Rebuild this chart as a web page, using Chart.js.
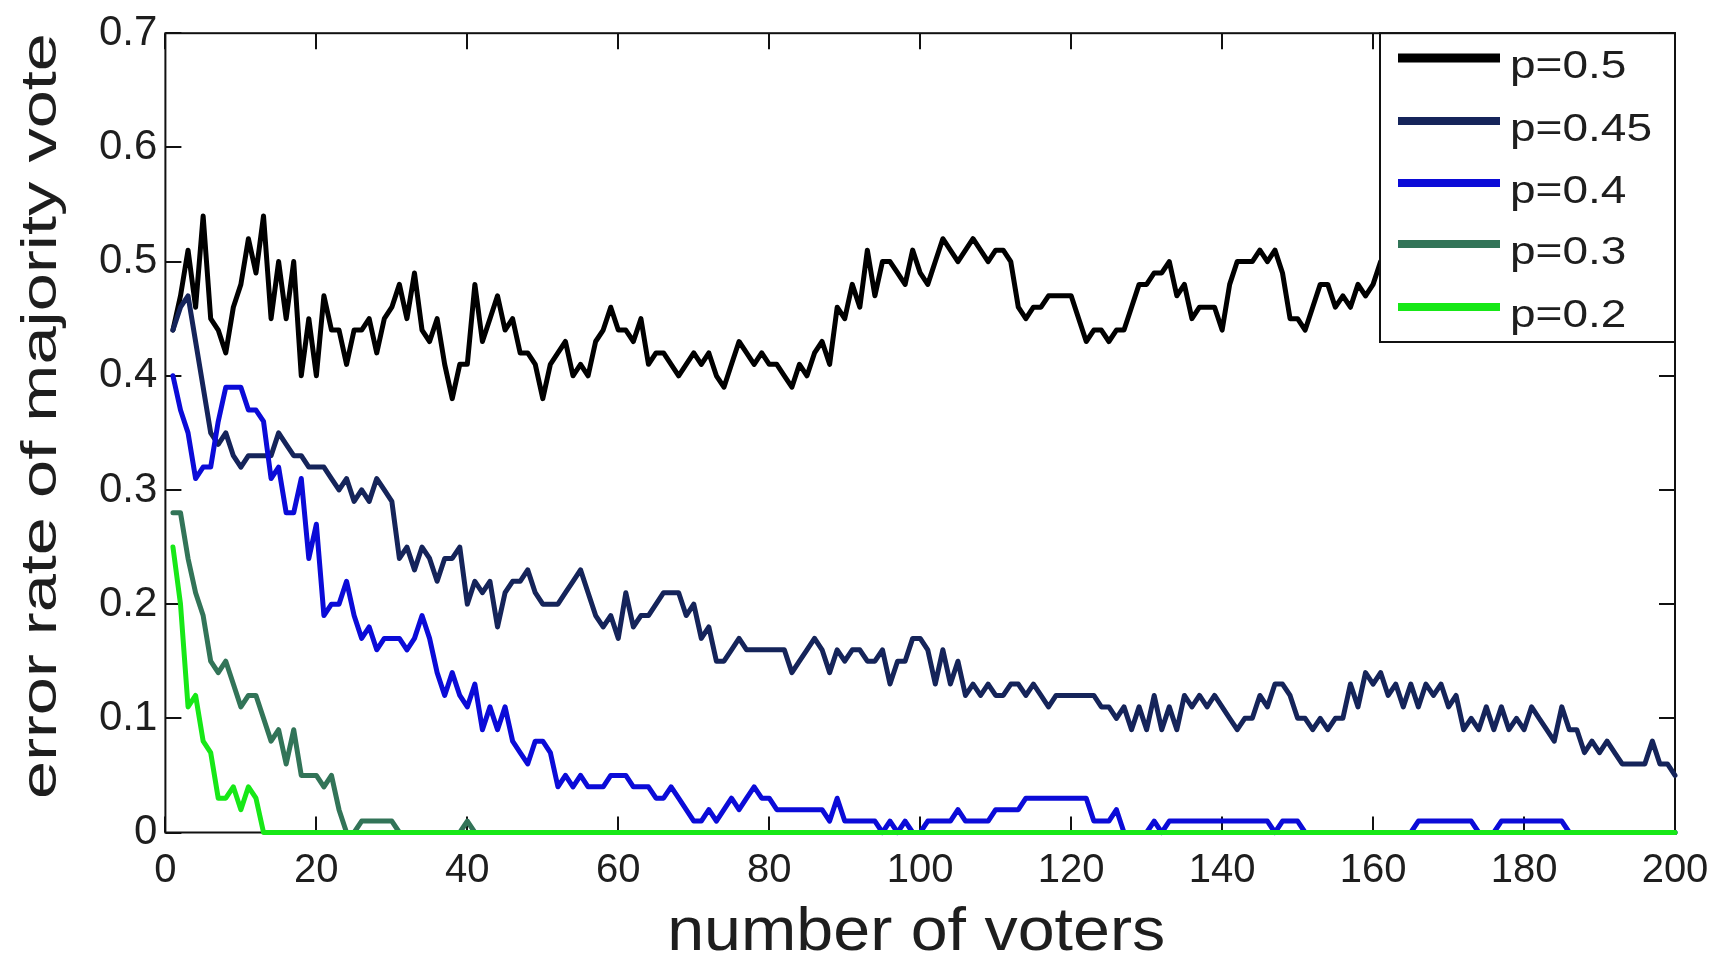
<!DOCTYPE html>
<html>
<head>
<meta charset="utf-8">
<script src="https://cdn.jsdelivr.net/npm/chart.js@4.4.1/dist/chart.umd.min.js"></script>
<style>
  html, body { margin: 0; padding: 0; background: #fff; overflow: hidden; }
  #wrap { width: 1729px; height: 954px; position: relative; }
  canvas { display: block; }
</style>
</head>
<body>
<div id="wrap"><canvas id="chart" width="1729" height="954"></canvas></div>
<script>
// number of voters on the x axis: 1 .. 200
const voters = Array.from({ length: 200 }, (_, i) => i + 1);

// error rate of the majority vote, one array per individual error probability p
const errP50 = [
  0.44,0.47,0.51,0.46,0.54,0.45,0.44,0.42,0.46,0.48,
  0.52,0.49,0.54,0.45,0.50,0.45,0.50,0.40,0.45,0.40,
  0.47,0.44,0.44,0.41,0.44,0.44,0.45,0.42,0.45,0.46,
  0.48,0.45,0.49,0.44,0.43,0.45,0.41,0.38,0.41,0.41,
  0.48,0.43,0.45,0.47,0.44,0.45,0.42,0.42,0.41,0.38,
  0.41,0.42,0.43,0.40,0.41,0.40,0.43,0.44,0.46,0.44,
  0.44,0.43,0.45,0.41,0.42,0.42,0.41,0.40,0.41,0.42,
  0.41,0.42,0.40,0.39,0.41,0.43,0.42,0.41,0.42,0.41,
  0.41,0.40,0.39,0.41,0.40,0.42,0.43,0.41,0.46,0.45,
  0.48,0.46,0.51,0.47,0.50,0.50,0.49,0.48,0.51,0.49,
  0.48,0.50,0.52,0.51,0.50,0.51,0.52,0.51,0.50,0.51,
  0.51,0.50,0.46,0.45,0.46,0.46,0.47,0.47,0.47,0.47,
  0.45,0.43,0.44,0.44,0.43,0.44,0.44,0.46,0.48,0.48,
  0.49,0.49,0.50,0.47,0.48,0.45,0.46,0.46,0.46,0.44,
  0.48,0.50,0.50,0.50,0.51,0.50,0.51,0.49,0.45,0.45,
  0.44,0.46,0.48,0.48,0.46,0.47,0.46,0.48,0.47,0.48,
  0.50,0.51
];
const errP45 = [
  0.44,0.46,0.47,0.43,0.39,0.35,0.34,0.35,0.33,0.32,
  0.33,0.33,0.33,0.33,0.35,0.34,0.33,0.33,0.32,0.32,
  0.32,0.31,0.30,0.31,0.29,0.30,0.29,0.31,0.30,0.29,
  0.24,0.25,0.23,0.25,0.24,0.22,0.24,0.24,0.25,0.20,
  0.22,0.21,0.22,0.18,0.21,0.22,0.22,0.23,0.21,0.20,
  0.20,0.20,0.21,0.22,0.23,0.21,0.19,0.18,0.19,0.17,
  0.21,0.18,0.19,0.19,0.20,0.21,0.21,0.21,0.19,0.20,
  0.17,0.18,0.15,0.15,0.16,0.17,0.16,0.16,0.16,0.16,
  0.16,0.16,0.14,0.15,0.16,0.17,0.16,0.14,0.16,0.15,
  0.16,0.16,0.15,0.15,0.16,0.13,0.15,0.15,0.17,0.17,
  0.16,0.13,0.16,0.13,0.15,0.12,0.13,0.12,0.13,0.12,
  0.12,0.13,0.13,0.12,0.13,0.12,0.11,0.12,0.12,0.12,
  0.12,0.12,0.12,0.11,0.11,0.10,0.11,0.09,0.11,0.09,
  0.12,0.09,0.11,0.09,0.12,0.11,0.12,0.11,0.12,0.11,
  0.10,0.09,0.10,0.10,0.12,0.11,0.13,0.13,0.12,0.10,
  0.10,0.09,0.10,0.09,0.10,0.10,0.13,0.11,0.14,0.13,
  0.14,0.12,0.13,0.11,0.13,0.11,0.13,0.12,0.13,0.11,
  0.12,0.09,0.10,0.09,0.11,0.09,0.11,0.09,0.10,0.09,
  0.11,0.10,0.09,0.08,0.11,0.09,0.09,0.07,0.08,0.07,
  0.08,0.07,0.06,0.06,0.06,0.06,0.08,0.06,0.06,0.05
];
const errP40 = [
  0.40,0.37,0.35,0.31,0.32,0.32,0.36,0.39,0.39,0.39,
  0.37,0.37,0.36,0.31,0.32,0.28,0.28,0.31,0.24,0.27,
  0.19,0.20,0.20,0.22,0.19,0.17,0.18,0.16,0.17,0.17,
  0.17,0.16,0.17,0.19,0.17,0.14,0.12,0.14,0.12,0.11,
  0.13,0.09,0.11,0.09,0.11,0.08,0.07,0.06,0.08,0.08,
  0.07,0.04,0.05,0.04,0.05,0.04,0.04,0.04,0.05,0.05,
  0.05,0.04,0.04,0.04,0.03,0.03,0.04,0.03,0.02,0.01,
  0.01,0.02,0.01,0.02,0.03,0.02,0.03,0.04,0.03,0.03,
  0.02,0.02,0.02,0.02,0.02,0.02,0.02,0.01,0.03,0.01,
  0.01,0.01,0.01,0.01,0.00,0.01,0.00,0.01,0.00,0.00,
  0.01,0.01,0.01,0.01,0.02,0.01,0.01,0.01,0.01,0.02,
  0.02,0.02,0.02,0.03,0.03,0.03,0.03,0.03,0.03,0.03,
  0.03,0.03,0.01,0.01,0.01,0.02,0.00,0.00,0.00,0.00,
  0.01,0.00,0.01,0.01,0.01,0.01,0.01,0.01,0.01,0.01,
  0.01,0.01,0.01,0.01,0.01,0.01,0.00,0.01,0.01,0.01,
  0.00,0.00,0.00,0.00,0.00,0.00,0.00,0.00,0.00,0.00,
  0.00,0.00,0.00,0.00,0.00,0.01,0.01,0.01,0.01,0.01,
  0.01,0.01,0.01,0.00,0.00,0.00,0.01,0.01,0.01,0.01,
  0.01,0.01,0.01,0.01,0.01,0.00,0.00,0.00,0.00,0.00,
  0.00,0.00,0.00,0.00,0.00,0.00,0.00,0.00,0.00,0.00
];
const errP30 = [
  0.28,0.28,0.24,0.21,0.19,0.15,0.14,0.15,0.13,0.11,
  0.12,0.12,0.10,0.08,0.09,0.06,0.09,0.05,0.05,0.05,
  0.04,0.05,0.02,0.00,0.00,0.01,0.01,0.01,0.01,0.01,
  0.00,0.00,0.00,0.00,0.00,0.00,0.00,0.00,0.00,0.01,
  0.00,0.00,0.00,0.00,0.00,0.00,0.00,0.00,0.00,0.00,
  0.00,0.00,0.00,0.00,0.00,0.00,0.00,0.00,0.00,0.00,
  0.00,0.00,0.00,0.00,0.00,0.00,0.00,0.00,0.00,0.00,
  0.00,0.00,0.00,0.00,0.00,0.00,0.00,0.00,0.00,0.00,
  0.00,0.00,0.00,0.00,0.00,0.00,0.00,0.00,0.00,0.00,
  0.00,0.00,0.00,0.00,0.00,0.00,0.00,0.00,0.00,0.00,
  0.00,0.00,0.00,0.00,0.00,0.00,0.00,0.00,0.00,0.00,
  0.00,0.00,0.00,0.00,0.00,0.00,0.00,0.00,0.00,0.00,
  0.00,0.00,0.00,0.00,0.00,0.00,0.00,0.00,0.00,0.00,
  0.00,0.00,0.00,0.00,0.00,0.00,0.00,0.00,0.00,0.00,
  0.00,0.00,0.00,0.00,0.00,0.00,0.00,0.00,0.00,0.00,
  0.00,0.00,0.00,0.00,0.00,0.00,0.00,0.00,0.00,0.00,
  0.00,0.00,0.00,0.00,0.00,0.00,0.00,0.00,0.00,0.00,
  0.00,0.00,0.00,0.00,0.00,0.00,0.00,0.00,0.00,0.00,
  0.00,0.00,0.00,0.00,0.00,0.00,0.00,0.00,0.00,0.00,
  0.00,0.00,0.00,0.00,0.00,0.00,0.00,0.00,0.00,0.00
];
const errP20 = [
  0.25,0.20,0.11,0.12,0.08,0.07,0.03,0.03,0.04,0.02,
  0.04,0.03,0.00,0.00,0.00,0.00,0.00,0.00,0.00,0.00,
  0.00,0.00,0.00,0.00,0.00,0.00,0.00,0.00,0.00,0.00,
  0.00,0.00,0.00,0.00,0.00,0.00,0.00,0.00,0.00,0.00,
  0.00,0.00,0.00,0.00,0.00,0.00,0.00,0.00,0.00,0.00,
  0.00,0.00,0.00,0.00,0.00,0.00,0.00,0.00,0.00,0.00,
  0.00,0.00,0.00,0.00,0.00,0.00,0.00,0.00,0.00,0.00,
  0.00,0.00,0.00,0.00,0.00,0.00,0.00,0.00,0.00,0.00,
  0.00,0.00,0.00,0.00,0.00,0.00,0.00,0.00,0.00,0.00,
  0.00,0.00,0.00,0.00,0.00,0.00,0.00,0.00,0.00,0.00,
  0.00,0.00,0.00,0.00,0.00,0.00,0.00,0.00,0.00,0.00,
  0.00,0.00,0.00,0.00,0.00,0.00,0.00,0.00,0.00,0.00,
  0.00,0.00,0.00,0.00,0.00,0.00,0.00,0.00,0.00,0.00,
  0.00,0.00,0.00,0.00,0.00,0.00,0.00,0.00,0.00,0.00,
  0.00,0.00,0.00,0.00,0.00,0.00,0.00,0.00,0.00,0.00,
  0.00,0.00,0.00,0.00,0.00,0.00,0.00,0.00,0.00,0.00,
  0.00,0.00,0.00,0.00,0.00,0.00,0.00,0.00,0.00,0.00,
  0.00,0.00,0.00,0.00,0.00,0.00,0.00,0.00,0.00,0.00,
  0.00,0.00,0.00,0.00,0.00,0.00,0.00,0.00,0.00,0.00,
  0.00,0.00,0.00,0.00,0.00,0.00,0.00,0.00,0.00,0.00
];

const seriesLabels = ['p=0.5', 'p=0.45', 'p=0.4', 'p=0.3', 'p=0.2'];
const seriesValues = [errP50, errP45, errP40, errP30, errP20];
const seriesColors = ['#000000', '#15245a', '#0b0bd8', '#327458', '#17e817'];

const xTickValues = [0, 20, 40, 60, 80, 100, 120, 140, 160, 180, 200];
const yTickValues = [0, 0.1, 0.2, 0.3, 0.4, 0.5, 0.6, 0.7];
const yTickLabels = ['0', '0.1', '0.2', '0.3', '0.4', '0.5', '0.6', '0.7'];

const xTitle = 'number of voters';
const yTitle = 'error rate of majority vote';

const FONT = "'Liberation Sans', Arial, sans-serif";
const TEXT = '#1e1e1e';

// draws a string with a horizontal stretch factor so it fills a given width
function stretchedText(ctx, text, x, y, size, targetWidth) {
  ctx.font = size + 'px ' + FONT;
  const w = ctx.measureText(text).width;
  const sx = targetWidth / w;
  ctx.save();
  ctx.translate(x, y);
  ctx.scale(sx, 1);
  ctx.fillText(text, 0, 0);
  ctx.restore();
}

// box frame with inward tick marks on all four sides (under the data lines)
const framePlugin = {
  id: 'frame',
  beforeDatasetsDraw(chart) {
    const { ctx, chartArea: a, scales: { x, y } } = chart;
    const L = 16;
    ctx.save();
    ctx.strokeStyle = '#111';
    ctx.lineWidth = 2;
    ctx.beginPath();
    xTickValues.forEach(v => {
      const px = Math.round(x.getPixelForValue(v));
      ctx.moveTo(px, a.bottom); ctx.lineTo(px, a.bottom - L);
      ctx.moveTo(px, a.top); ctx.lineTo(px, a.top + L);
    });
    yTickValues.forEach(v => {
      const py = Math.round(y.getPixelForValue(v));
      ctx.moveTo(a.left, py); ctx.lineTo(a.left + L, py);
      ctx.moveTo(a.right, py); ctx.lineTo(a.right - L, py);
    });
    ctx.stroke();
    ctx.strokeRect(a.left, a.top, a.right - a.left, a.bottom - a.top);
    ctx.restore();
  }
};

// legend box in the upper right corner, drawn above the lines
const legendPlugin = {
  id: 'cornerLegend',
  afterDatasetsDraw(chart) {
    const { ctx, chartArea: a } = chart;
    const boxL = 1380, boxT = a.top, boxR = a.right, boxB = 342;
    ctx.save();
    ctx.fillStyle = '#ffffff';
    ctx.fillRect(boxL, boxT, boxR - boxL, boxB - boxT);
    ctx.strokeStyle = '#111';
    ctx.lineWidth = 2;
    ctx.strokeRect(boxL, boxT, boxR - boxL, boxB - boxT);
    const rows = [58, 121, 183, 244, 307];
    ctx.font = '39px ' + FONT;
    const sx = 142 / ctx.measureText('p=0.45').width;
    seriesLabels.forEach((lab, i) => {
      ctx.strokeStyle = seriesColors[i];
      ctx.lineWidth = i === 0 ? 9 : 8;
      ctx.beginPath();
      ctx.moveTo(1398, rows[i]); ctx.lineTo(1500, rows[i]);
      ctx.stroke();
      ctx.fillStyle = TEXT;
      ctx.textBaseline = 'alphabetic';
      ctx.textAlign = 'left';
      ctx.save();
      ctx.translate(1510, rows[i] + 20);
      ctx.scale(sx, 1);
      ctx.fillText(lab, 0, 0);
      ctx.restore();
    });
    ctx.restore();
  }
};

// axis titles
const titlePlugin = {
  id: 'axisTitles',
  afterDraw(chart) {
    const { ctx, chartArea: a } = chart;
    ctx.save();
    ctx.fillStyle = TEXT;
    ctx.textAlign = 'center';
    ctx.textBaseline = 'alphabetic';
    stretchedText(ctx, xTitle, (a.left + a.right) / 2 - 4, 950, 61, 498);
    ctx.save();
    ctx.translate(56, 416);
    ctx.rotate(-Math.PI / 2);
    stretchedText(ctx, yTitle, 0, 0, 50, 766);
    ctx.restore();
    ctx.restore();
  }
};

const datasets = seriesLabels.map((lab, i) => ({
  label: lab,
  data: seriesValues[i].map((v, k) => ({ x: voters[k], y: v })),
  borderColor: seriesColors[i],
  backgroundColor: seriesColors[i],
  borderWidth: 5,
  pointRadius: 0,
  tension: 0,
  fill: false,
  clip: false,
  order: seriesLabels.length - i
}));

new Chart(document.getElementById('chart'), {
  type: 'line',
  data: { datasets },
  options: {
    responsive: false,
    animation: false,
    events: [],
    layout: { padding: { top: 22, right: 54, left: 0, bottom: 0 } },
    elements: { line: { borderJoinStyle: 'round', borderCapStyle: 'round' } },
    plugins: { legend: { display: false }, tooltip: { enabled: false } },
    scales: {
      x: {
        type: 'linear',
        min: 0, max: 200,
        afterFit: s => { s.height = 121.5; },
        afterBuildTicks: s => { s.ticks = xTickValues.map(v => ({ value: v })); },
        ticks: { font: { family: FONT, size: 40 }, color: TEXT, padding: 14, maxRotation: 0, autoSkip: false },
        grid: { display: false, drawTicks: false },
        border: { display: false }
      },
      y: {
        type: 'linear',
        min: 0, max: 0.7,
        afterFit: s => { s.width = 165.4; },
        afterBuildTicks: s => { s.ticks = yTickValues.map(v => ({ value: v })); },
        ticks: {
          font: { family: FONT, size: 42 }, color: TEXT, padding: 8,
          callback: (v, idx) => yTickLabels[idx]
        },
        grid: { display: false, drawTicks: false },
        border: { display: false }
      }
    }
  },
  plugins: [framePlugin, legendPlugin, titlePlugin]
});
</script>
</body>
</html>
